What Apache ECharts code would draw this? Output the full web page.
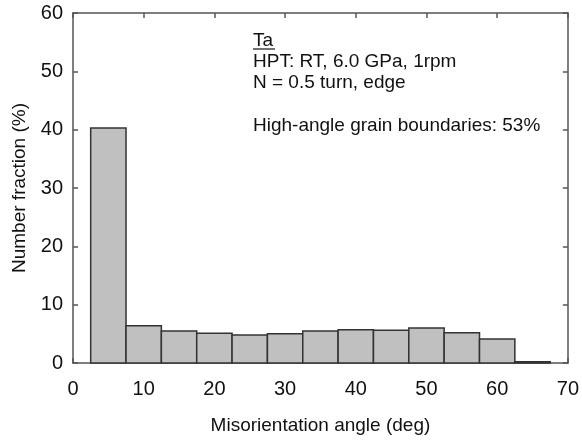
<!DOCTYPE html>
<html>
<head>
<meta charset="utf-8">
<script src="https://cdn.jsdelivr.net/npm/echarts@6/dist/echarts.min.js"></script>
<style>
  html, body { margin: 0; padding: 0; background: #fff; }
  #chart { width: 582px; height: 441px; }
</style>
</head>
<body>
<div id="chart"></div>
<script>
// bin centres (deg) and number fraction (%)
var binCenters = [5, 10, 15, 20, 25, 30, 35, 40, 45, 50, 55, 60, 65];
var fractions = [40.3, 6.4, 5.5, 5.1, 4.8, 5.0, 5.5, 5.7, 5.6, 6.0, 5.2, 4.1, 0.2];
var binWidth = 5;
var xTicks = [0, 10, 20, 30, 40, 50, 60, 70];
var yTicks = [0, 10, 20, 30, 40, 50, 60];
var noteLines = ['HPT: RT, 6.0 GPa, 1rpm', 'N = 0.5 turn, edge'];
var hagbNote = 'High-angle grain boundaries: 53%';

var font = 'Arial, "Liberation Sans", sans-serif';
var axisCol = '#555';

var histData = binCenters.map(function (c, i) { return [c, fractions[i]]; });

var chart = echarts.init(document.getElementById('chart'));

function frameAxis(extra) {
    return Object.assign({
        axisLine: { show: true, onZero: false, lineStyle: { color: axisCol, width: 1.5 } },
        axisTick: { show: true, inside: true, length: 5, lineStyle: { color: axisCol, width: 1.5 } },
        splitLine: { show: false },
        axisLabel: { show: false }
    }, extra);
}

chart.setOption({
    animation: false,
    grid: { left: 73, right: 13, top: 13, bottom: 78 },
    xAxis: [
        frameAxis({
            type: 'value', min: xTicks[0], max: xTicks[xTicks.length - 1], interval: 10,
            position: 'bottom',
            name: 'Misorientation angle (deg)', nameLocation: 'middle', nameGap: 53,
            nameTextStyle: { fontFamily: font, fontSize: 19, color: '#111' },
            axisLabel: { show: true, margin: 16, fontFamily: font, fontSize: 20, color: '#111' }
        }),
        frameAxis({ type: 'value', min: xTicks[0], max: xTicks[xTicks.length - 1], interval: 10, position: 'top' })
    ],
    yAxis: [
        frameAxis({
            type: 'value', min: yTicks[0], max: yTicks[yTicks.length - 1], interval: 10,
            position: 'left',
            name: 'Number fraction (%)', nameLocation: 'middle', nameGap: 44,
            nameTextStyle: { fontFamily: font, fontSize: 19, color: '#111' },
            axisLabel: { show: true, margin: 10, fontFamily: font, fontSize: 20, color: '#111' }
        }),
        frameAxis({ type: 'value', min: yTicks[0], max: yTicks[yTicks.length - 1], interval: 10, position: 'right' })
    ],
    series: [{
        type: 'custom',
        xAxisIndex: 0,
        yAxisIndex: 0,
        data: histData,
        renderItem: function (params, api) {
            var c = api.value(0), v = api.value(1);
            var p0 = api.coord([c - binWidth / 2, v]);
            var p1 = api.coord([c + binWidth / 2, 0]);
            return {
                type: 'rect',
                shape: { x: p0[0], y: p0[1], width: p1[0] - p0[0], height: p1[1] - p0[1] },
                style: { fill: '#c0c0c0', stroke: '#333', lineWidth: 1.5 }
            };
        }
    }],
    graphic: [
        { type: 'text', left: 253, top: 31, style: { text: 'Ta', font: '19px ' + font, fill: '#111' } },
        { type: 'line', shape: { x1: 253, y1: 49, x2: 275, y2: 49 }, style: { stroke: '#111', lineWidth: 1.2 } },
        { type: 'text', left: 253, top: 52, style: { text: noteLines[0], font: '19px ' + font, fill: '#111' } },
        { type: 'text', left: 253, top: 73, style: { text: noteLines[1], font: '19px ' + font, fill: '#111' } },
        { type: 'text', left: 253, top: 116, style: { text: hagbNote, font: '19px ' + font, fill: '#111' } }
    ]
});
</script>
</body>
</html>
